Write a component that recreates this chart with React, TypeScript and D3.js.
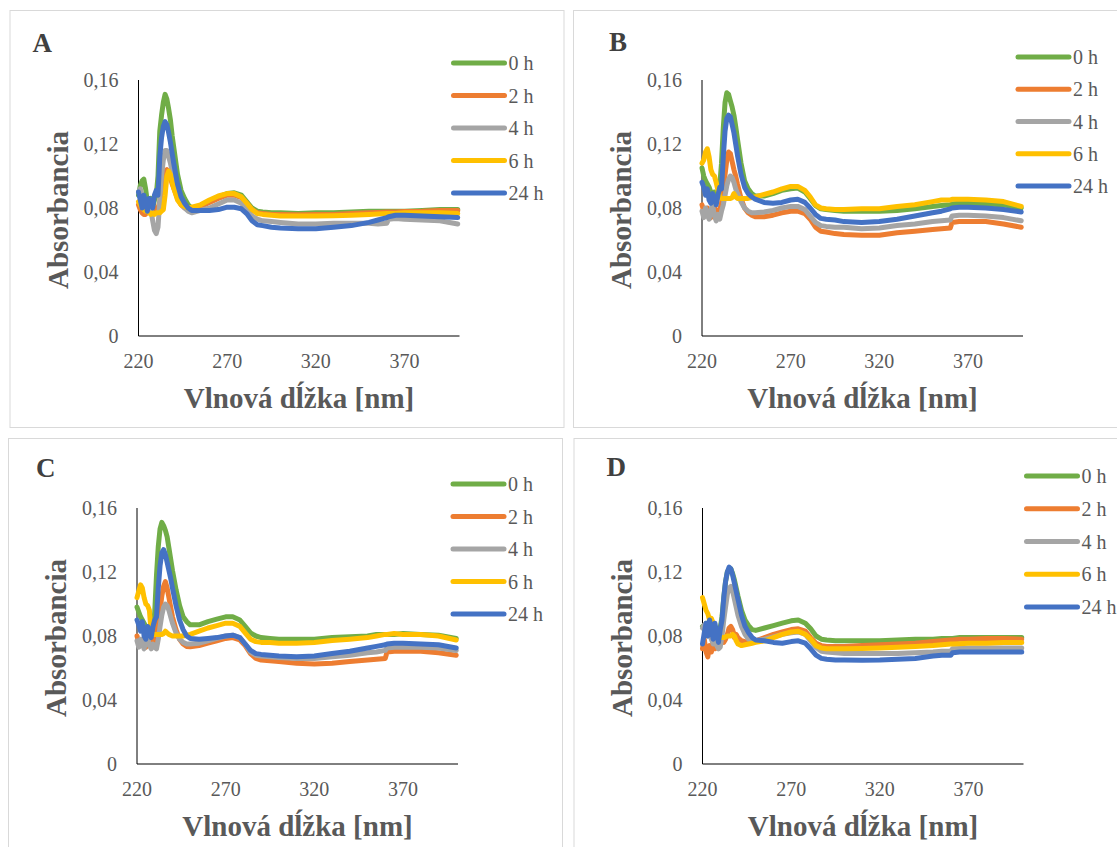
import React from 'react';
import * as d3 from 'd3';

// wavelength grid (nm) shared by all spectra
const wavelengths = [
  220, 221, 222, 223, 224, 225, 226, 227, 228, 229, 230, 231, 232, 233, 234, 235, 236, 237, 238, 239,
  240, 242, 244, 246, 248, 250, 255, 260, 265, 270, 274, 278, 281, 284, 287, 290, 295, 300, 310, 320,
  330, 340, 350, 355, 360, 361, 365, 370, 380, 390, 400,
];

const seriesNames = ['0 h', '2 h', '4 h', '6 h', '24 h'];
const seriesColors = ['#70AD47', '#ED7D31', '#A5A5A5', '#FFC000', '#4472C4'];
const yTicks = [0, 0.04, 0.08, 0.12, 0.16];
const yTickLabels = ['0', '0,04', '0,08', '0,12', '0,16'];
const xTicks = [220, 270, 320, 370];

// Panel A
const a0h = [
  0.088, 0.094, 0.097, 0.098, 0.092, 0.084, 0.082, 0.086, 0.080, 0.085, 0.088, 0.100, 0.128, 0.138, 0.146, 0.151, 0.148, 0.142, 0.135, 0.125,
  0.117, 0.101, 0.091, 0.086, 0.082, 0.080, 0.081, 0.084, 0.087, 0.089, 0.0895, 0.088, 0.084, 0.080, 0.078, 0.0775, 0.077, 0.077, 0.0765, 0.077,
  0.077, 0.0775, 0.078, 0.078, 0.078, 0.078, 0.078, 0.078, 0.0785, 0.079, 0.079,
];
const a2h = [
  0.082, 0.079, 0.077, 0.076, 0.076, 0.078, 0.080, 0.079, 0.078, 0.079, 0.080, 0.080, 0.084, 0.090, 0.098, 0.103, 0.104, 0.102, 0.099, 0.095,
  0.092, 0.086, 0.082, 0.080, 0.079, 0.0795, 0.081, 0.0835, 0.086, 0.088, 0.088, 0.0865, 0.083, 0.079, 0.077, 0.0765, 0.076, 0.076, 0.0758, 0.076,
  0.076, 0.0765, 0.077, 0.0772, 0.0775, 0.0775, 0.0775, 0.0778, 0.078, 0.0785, 0.0785,
];
const a4h = [
  0.090, 0.092, 0.088, 0.082, 0.085, 0.080, 0.084, 0.079, 0.072, 0.066, 0.064, 0.068, 0.085, 0.100, 0.110, 0.116, 0.116, 0.112, 0.108, 0.103,
  0.098, 0.089, 0.083, 0.080, 0.078, 0.077, 0.0785, 0.080, 0.0825, 0.085, 0.085, 0.083, 0.079, 0.075, 0.073, 0.072, 0.0715, 0.071, 0.070, 0.070,
  0.0705, 0.0705, 0.0705, 0.070, 0.0705, 0.073, 0.0735, 0.073, 0.0725, 0.072, 0.070,
];
const a6h = [
  0.084, 0.082, 0.080, 0.079, 0.078, 0.078, 0.077, 0.076, 0.077, 0.076, 0.077, 0.077, 0.077, 0.078, 0.079, 0.088, 0.100, 0.103, 0.101, 0.096,
  0.092, 0.085, 0.082, 0.081, 0.080, 0.0805, 0.082, 0.085, 0.0875, 0.089, 0.089, 0.087, 0.083, 0.079, 0.0765, 0.076, 0.0755, 0.075, 0.075, 0.075,
  0.0752, 0.0755, 0.076, 0.0762, 0.0765, 0.0765, 0.0765, 0.077, 0.077, 0.077, 0.0765,
];
const a24h = [
  0.090, 0.085, 0.080, 0.088, 0.084, 0.078, 0.086, 0.083, 0.080, 0.088, 0.091, 0.088, 0.112, 0.124, 0.131, 0.134, 0.132, 0.127, 0.121, 0.114,
  0.107, 0.095, 0.087, 0.083, 0.080, 0.0785, 0.0785, 0.0785, 0.079, 0.0805, 0.0805, 0.0795, 0.0765, 0.072, 0.0695, 0.069, 0.068, 0.0675, 0.067, 0.067,
  0.068, 0.069, 0.071, 0.0725, 0.074, 0.0745, 0.0755, 0.0755, 0.075, 0.0745, 0.074,
];

// Panel B
const b0h = [
  0.105, 0.100, 0.097, 0.095, 0.093, 0.090, 0.088, 0.090, 0.086, 0.088, 0.094, 0.108, 0.130, 0.146, 0.152, 0.151, 0.147, 0.143, 0.138, 0.131,
  0.123, 0.108, 0.097, 0.092, 0.089, 0.0875, 0.0875, 0.089, 0.091, 0.092, 0.0925, 0.090, 0.086, 0.0815, 0.0795, 0.079, 0.0785, 0.078, 0.078, 0.078,
  0.0785, 0.0795, 0.081, 0.0815, 0.082, 0.0825, 0.083, 0.083, 0.0825, 0.082, 0.080,
];
const b2h = [
  0.082, 0.078, 0.076, 0.080, 0.077, 0.074, 0.078, 0.081, 0.077, 0.075, 0.079, 0.083, 0.090, 0.101, 0.110, 0.115, 0.114, 0.109, 0.104, 0.100,
  0.095, 0.086, 0.080, 0.077, 0.0755, 0.0745, 0.0745, 0.0755, 0.077, 0.078, 0.078, 0.0765, 0.073, 0.068, 0.0655, 0.065, 0.064, 0.0635, 0.063, 0.063,
  0.0645, 0.0655, 0.0665, 0.067, 0.0675, 0.071, 0.0715, 0.0715, 0.0715, 0.070, 0.068,
];
const b4h = [
  0.078, 0.074, 0.080, 0.076, 0.073, 0.079, 0.082, 0.075, 0.072, 0.076, 0.073, 0.078, 0.082, 0.088, 0.094, 0.098, 0.100, 0.099, 0.096, 0.092,
  0.089, 0.084, 0.080, 0.078, 0.077, 0.077, 0.0775, 0.0785, 0.080, 0.081, 0.081, 0.079, 0.075, 0.071, 0.069, 0.0685, 0.068, 0.068, 0.067, 0.0675,
  0.069, 0.070, 0.0715, 0.072, 0.0725, 0.075, 0.0755, 0.0755, 0.075, 0.074, 0.072,
];
const b6h = [
  0.108, 0.110, 0.115, 0.117, 0.112, 0.104, 0.101, 0.100, 0.096, 0.091, 0.087, 0.086, 0.086, 0.086, 0.086, 0.086, 0.086, 0.0865, 0.089, 0.087,
  0.086, 0.086, 0.086, 0.086, 0.0865, 0.087, 0.0885, 0.090, 0.092, 0.0935, 0.0935, 0.091, 0.087, 0.082, 0.080, 0.0795, 0.079, 0.079, 0.0795, 0.0795,
  0.081, 0.082, 0.084, 0.085, 0.085, 0.0855, 0.0855, 0.0855, 0.085, 0.084, 0.081,
];
const b24h = [
  0.096, 0.093, 0.088, 0.092, 0.085, 0.083, 0.089, 0.086, 0.082, 0.088, 0.093, 0.092, 0.112, 0.128, 0.136, 0.138, 0.137, 0.132, 0.127, 0.120,
  0.113, 0.101, 0.093, 0.089, 0.087, 0.0855, 0.0835, 0.083, 0.0835, 0.085, 0.0855, 0.0835, 0.080, 0.076, 0.0735, 0.073, 0.0725, 0.0715, 0.071, 0.0715,
  0.073, 0.075, 0.077, 0.078, 0.0795, 0.080, 0.0805, 0.0805, 0.080, 0.079, 0.0775,
];

// Panel C
const c0h = [
  0.098, 0.095, 0.092, 0.090, 0.088, 0.086, 0.084, 0.082, 0.080, 0.082, 0.095, 0.118, 0.136, 0.147, 0.151, 0.149, 0.146, 0.142, 0.135, 0.128,
  0.121, 0.109, 0.099, 0.092, 0.089, 0.087, 0.087, 0.089, 0.0905, 0.092, 0.092, 0.090, 0.086, 0.082, 0.080, 0.079, 0.0785, 0.078, 0.078, 0.078,
  0.079, 0.0795, 0.080, 0.081, 0.081, 0.081, 0.081, 0.0815, 0.081, 0.0805, 0.0785,
];
const c2h = [
  0.080, 0.076, 0.074, 0.078, 0.075, 0.073, 0.077, 0.079, 0.076, 0.074, 0.078, 0.081, 0.088, 0.096, 0.105, 0.111, 0.114, 0.110, 0.104, 0.098,
  0.092, 0.084, 0.078, 0.075, 0.0735, 0.0733, 0.074, 0.0755, 0.077, 0.0785, 0.079, 0.0775, 0.074, 0.069, 0.066, 0.065, 0.0645, 0.064, 0.063, 0.0625,
  0.063, 0.064, 0.065, 0.0655, 0.066, 0.070, 0.0705, 0.0705, 0.0705, 0.0695, 0.068,
];
const c4h = [
  0.077, 0.073, 0.078, 0.075, 0.072, 0.077, 0.080, 0.074, 0.072, 0.075, 0.073, 0.072, 0.078, 0.086, 0.093, 0.098, 0.100, 0.099, 0.096, 0.092,
  0.088, 0.082, 0.078, 0.076, 0.075, 0.075, 0.0755, 0.077, 0.0785, 0.080, 0.0805, 0.079, 0.075, 0.070, 0.068, 0.0675, 0.067, 0.0665, 0.066, 0.066,
  0.067, 0.068, 0.0695, 0.070, 0.071, 0.0725, 0.073, 0.073, 0.073, 0.0725, 0.071,
];
const c6h = [
  0.104, 0.108, 0.112, 0.110, 0.104, 0.100, 0.099, 0.096, 0.082, 0.081, 0.081, 0.081, 0.081, 0.081, 0.081, 0.0815, 0.083, 0.082, 0.081, 0.0805,
  0.080, 0.080, 0.080, 0.080, 0.0805, 0.081, 0.083, 0.085, 0.0865, 0.088, 0.088, 0.086, 0.082, 0.078, 0.0765, 0.076, 0.076, 0.0755, 0.0755, 0.076,
  0.0772, 0.078, 0.079, 0.080, 0.081, 0.081, 0.0815, 0.081, 0.081, 0.080, 0.0775,
];
const c24h = [
  0.090, 0.087, 0.083, 0.089, 0.080, 0.078, 0.086, 0.083, 0.079, 0.086, 0.090, 0.092, 0.110, 0.124, 0.132, 0.134, 0.131, 0.126, 0.121, 0.116,
  0.110, 0.099, 0.090, 0.084, 0.080, 0.0785, 0.078, 0.0785, 0.079, 0.080, 0.0805, 0.079, 0.075, 0.071, 0.069, 0.0685, 0.068, 0.0675, 0.067, 0.0675,
  0.069, 0.0705, 0.0725, 0.0735, 0.0745, 0.075, 0.0755, 0.0755, 0.075, 0.0745, 0.0725,
];

// Panel D
const d0h = [
  0.086, 0.084, 0.088, 0.085, 0.087, 0.083, 0.085, 0.082, 0.080, 0.082, 0.085, 0.092, 0.104, 0.114, 0.120, 0.122, 0.122, 0.119, 0.115, 0.110,
  0.105, 0.096, 0.090, 0.0865, 0.084, 0.0835, 0.085, 0.0865, 0.088, 0.0895, 0.090, 0.088, 0.0845, 0.080, 0.078, 0.0775, 0.077, 0.077, 0.077, 0.077,
  0.0775, 0.078, 0.078, 0.0785, 0.0785, 0.0785, 0.079, 0.079, 0.079, 0.079, 0.079,
];
const d2h = [
  0.072, 0.078, 0.070, 0.067, 0.074, 0.070, 0.077, 0.072, 0.076, 0.074, 0.078, 0.077, 0.076, 0.078, 0.081, 0.085, 0.086, 0.084, 0.079, 0.081,
  0.079, 0.077, 0.0765, 0.076, 0.0765, 0.077, 0.079, 0.081, 0.0825, 0.084, 0.0845, 0.083, 0.079, 0.0755, 0.074, 0.0735, 0.0735, 0.0735, 0.074, 0.0745,
  0.075, 0.0755, 0.0765, 0.077, 0.0775, 0.0775, 0.078, 0.078, 0.0785, 0.0785, 0.078,
];
const d4h = [
  0.085, 0.087, 0.082, 0.080, 0.084, 0.078, 0.075, 0.079, 0.074, 0.072, 0.073, 0.080, 0.090, 0.098, 0.106, 0.110, 0.111, 0.108, 0.103, 0.098,
  0.093, 0.086, 0.081, 0.078, 0.077, 0.077, 0.078, 0.0795, 0.081, 0.082, 0.0825, 0.081, 0.077, 0.073, 0.0705, 0.070, 0.0695, 0.069, 0.069, 0.069,
  0.069, 0.0695, 0.070, 0.0705, 0.0705, 0.072, 0.0722, 0.0725, 0.0725, 0.0725, 0.0725,
];
const d6h = [
  0.104, 0.100, 0.096, 0.094, 0.090, 0.091, 0.088, 0.085, 0.082, 0.080, 0.079, 0.079, 0.079, 0.0795, 0.080, 0.080, 0.080, 0.081, 0.080, 0.077,
  0.075, 0.074, 0.0745, 0.075, 0.0755, 0.076, 0.077, 0.079, 0.081, 0.0825, 0.083, 0.081, 0.078, 0.074, 0.0725, 0.072, 0.072, 0.072, 0.0722, 0.0725,
  0.073, 0.0735, 0.074, 0.0745, 0.075, 0.075, 0.0752, 0.0755, 0.0755, 0.076, 0.076,
];
const d24h = [
  0.075, 0.082, 0.088, 0.080, 0.090, 0.085, 0.078, 0.088, 0.082, 0.076, 0.084, 0.090, 0.104, 0.114, 0.120, 0.123, 0.122, 0.118, 0.113, 0.108,
  0.103, 0.093, 0.086, 0.082, 0.079, 0.0775, 0.077, 0.076, 0.0755, 0.0765, 0.077, 0.0755, 0.072, 0.068, 0.066, 0.0655, 0.065, 0.065, 0.0648, 0.065,
  0.0655, 0.066, 0.0675, 0.068, 0.068, 0.0695, 0.070, 0.070, 0.070, 0.070, 0.070,
];

const panels = [
  { letter: 'A', left: 9.5, top: 10, series: [a0h, a2h, a4h, a6h, a24h], legendX: 444, legendY: 53, legendDy: 32.5, letterX: 23, letterY: 33 },
  { letter: 'B', left: 573, top: 10, series: [b0h, b2h, b4h, b6h, b24h], legendX: 445, legendY: 47, legendDy: 32.25, letterX: 36, letterY: 32 },
  { letter: 'C', left: 8, top: 438, series: [c0h, c2h, c4h, c6h, c24h], legendX: 445, legendY: 46, legendDy: 32.5, letterX: 28, letterY: 30 },
  { letter: 'D', left: 573.5, top: 438, series: [d0h, d2h, d4h, d6h, d24h], legendX: 453, legendY: 38, legendDy: 32.75, letterX: 33, letterY: 29 },
];

const PANEL_W = 554;
const PANEL_H = 417;
const plot = { left: 129, top: 70, width: 321, height: 256 };
const FONT = '"Liberation Serif", "Times New Roman", serif';
const TEXT = '#595959';

const x = d3.scaleLinear().domain([220, 401]).range([0, plot.width]);
const y = d3.scaleLinear().domain([0, 0.16]).range([plot.height, 0]);

const line = d3.line<number>()
  .x((d, i) => x(wavelengths[i]))
  .y(d => y(d));

type Panel = typeof panels[number];

const SpectrumPanel: React.FC<{ p: Panel }> = ({ p }) => (
  <g transform={`translate(${p.left},${p.top})`}>
    <rect x={0.5} y={0.5} width={PANEL_W} height={PANEL_H} fill="#fff" stroke="#d9d9d9" strokeWidth={1} />
    <text x={p.letterX} y={p.letterY} dy="0.35em" fontFamily={FONT} fontWeight="bold" fontSize={27} fill="#404040">
      {p.letter}
    </text>

    <g transform={`translate(${plot.left},${plot.top})`}>
      {/* axes */}
      <line x1={0} x2={0} y1={0} y2={plot.height} stroke="#000" strokeWidth={1} />
      <line x1={0} x2={plot.width} y1={plot.height} y2={plot.height} stroke="#000" strokeWidth={1} />

      {yTicks.map((t, i) => (
        <text key={t} x={-20} y={y(t)} dy="0.35em" textAnchor="end" fontFamily={FONT} fontSize={20} fill={TEXT}>
          {yTickLabels[i]}
        </text>
      ))}
      {xTicks.map(t => (
        <text key={t} x={x(t)} y={plot.height + 25} dy="0.35em" textAnchor="middle" fontFamily={FONT} fontSize={20} fill={TEXT}>
          {t}
        </text>
      ))}

      {p.series.map((s, i) => (
        <path key={i} d={line(s) || ''} fill="none" stroke={seriesColors[i]} strokeWidth={5}
          strokeLinejoin="round" strokeLinecap="round" />
      ))}
    </g>

    <text x={plot.left + plot.width / 2} y={388} dy="0.35em" textAnchor="middle" fontFamily={FONT}
      fontWeight="bold" fontSize={29} fill={TEXT}>
      Vlnová dĺžka [nm]
    </text>
    <text transform={`translate(48,${plot.top + plot.height / 2 + 2}) rotate(-90)`} dy="0.35em" textAnchor="middle"
      fontFamily={FONT} fontWeight="bold" fontSize={29} fill={TEXT}>
      Absorbancia
    </text>

    {seriesNames.map((name, i) => (
      <g key={name} transform={`translate(${p.legendX},${p.legendY + i * p.legendDy})`}>
        <line x1={0} x2={51} y1={0} y2={0} stroke={seriesColors[i]} strokeWidth={5} strokeLinecap="round" />
        <text x={55} y={0} dy="0.35em" fontFamily={FONT} fontSize={20} fill={TEXT}>{name}</text>
      </g>
    ))}
  </g>
);

const App: React.FC = () => (
  <svg width={1117} height={847} viewBox="0 0 1117 847"
    style={{ position: 'absolute', left: 0, top: 0, background: '#fff' }}>
    {panels.map(p => <SpectrumPanel key={p.letter} p={p} />)}
  </svg>
);

export default App;
